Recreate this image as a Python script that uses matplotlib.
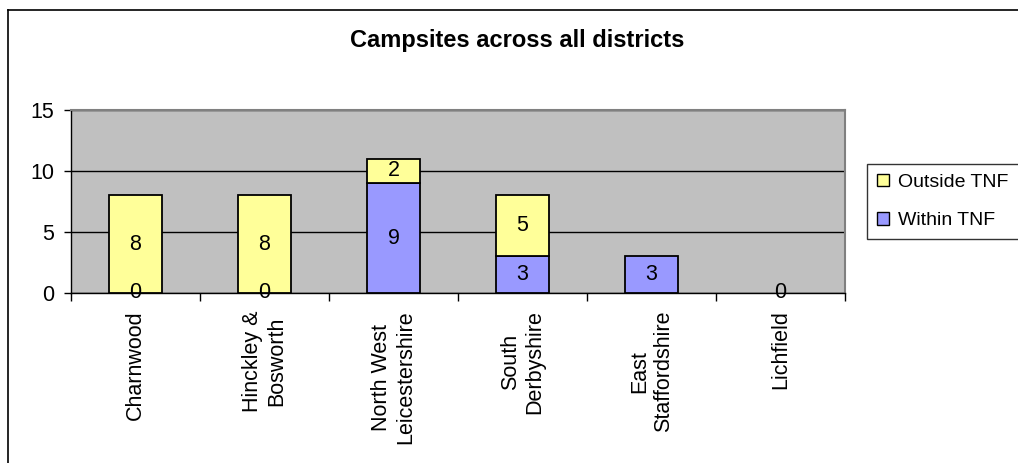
import matplotlib
matplotlib.use("Agg")
import matplotlib.pyplot as plt
from matplotlib.lines import Line2D
from matplotlib.patches import Patch
import numpy as np

plt.rcParams['font.family'] = ['Liberation Sans', 'DejaVu Sans']

districts = ["Charnwood", "Hinckley &\nBosworth", "North West\nLeicestershire",
             "South\nDerbyshire", "East\nStaffordshire", "Lichfield"]
within_tnf = [0, 0, 9, 3, 3, 0]
outside_tnf = [8, 8, 2, 5, None, None]
yticks = [0, 5, 10, 15]

W, H = 1018, 463
fig = plt.figure(figsize=(W / 100, H / 100), dpi=100)
fig.patch.set_facecolor("white")

# chart area frame (left and top edges)
fig.add_artist(Line2D([8 / W, 8 / W], [0, 1 - 10 / H], color="black", lw=1.2))
fig.add_artist(Line2D([8 / W, 1], [1 - 10 / H, 1 - 10 / H], color="black", lw=1.2))

left, right, top, bottom = 71, 845, 110, 293
ax = fig.add_axes([left / W, 1 - bottom / H, (right - left) / W, (bottom - top) / H])
ax.set_facecolor("#C0C0C0")

x = np.arange(len(districts))
within = np.array(within_tnf, dtype=float)
outside = np.array([v if v is not None else 0 for v in outside_tnf], dtype=float)
bw = 0.41
yellow = "#FFFF99"
blue = "#9999FF"

for i in range(len(districts)):
    if within[i] > 0:
        ax.bar(x[i], within[i], bw, color=blue, edgecolor="black", lw=1.3, zorder=3)
    if outside_tnf[i] is not None and outside[i] > 0:
        ax.bar(x[i], outside[i], bw, bottom=within[i], color=yellow,
               edgecolor="black", lw=1.3, zorder=3)

lab_fs = 15.5
for i in range(len(districts)):
    ax.text(x[i], within[i] / 2, f"{within_tnf[i]:g}", ha="center", va="center",
            fontsize=lab_fs, zorder=5, clip_on=False)
    if outside_tnf[i] is not None:
        ax.text(x[i], within[i] + outside[i] / 2, f"{outside_tnf[i]:g}",
                ha="center", va="center", fontsize=lab_fs, zorder=5)

ax.set_xlim(-0.5, len(districts) - 0.5)
ax.set_ylim(0, 15)
ax.set_yticks(yticks)
ax.set_yticklabels([str(t) for t in yticks], fontsize=15.5)
ax.yaxis.grid(True, color="black", lw=1)
ax.set_axisbelow(True)
ax.tick_params(axis="y", length=5, width=1, pad=7, color="black")

ax.set_xticks(np.arange(-0.5, len(districts), 1.0))
ax.set_xticklabels([])
ax.tick_params(axis="x", length=6, width=1, color="black")
for i, name in enumerate(districts):
    ax.text(x[i], -0.095, name, transform=ax.get_xaxis_transform(),
            rotation=90, ha="center", va="top", multialignment="center",
            fontsize=15.5, linespacing=1.2)

for s in ["left", "bottom"]:
    ax.spines[s].set_color("black")
    ax.spines[s].set_linewidth(1)
for s in ["top", "right"]:
    ax.spines[s].set_color("#808080")
    ax.spines[s].set_linewidth(1.5)

fig.text(517 / W, 1 - 40 / H, "Campsites across all districts", ha="center",
         va="center", fontsize=17, fontweight="bold")

handles = [Patch(facecolor=yellow, edgecolor="black", lw=1),
           Patch(facecolor=blue, edgecolor="black", lw=1)]
leg = fig.legend(handles, ["Outside TNF", "Within TNF"], loc="upper left",
                 bbox_to_anchor=(867 / W, 1 - 164 / H), fontsize=14,
                 frameon=True, fancybox=False, edgecolor="black",
                 handlelength=0.62, handleheight=0.62, handletextpad=0.5,
                 borderpad=0.5, labelspacing=1.1, borderaxespad=0)
leg.get_frame().set_linewidth(1)

fig.savefig("out.png", dpi=100)
